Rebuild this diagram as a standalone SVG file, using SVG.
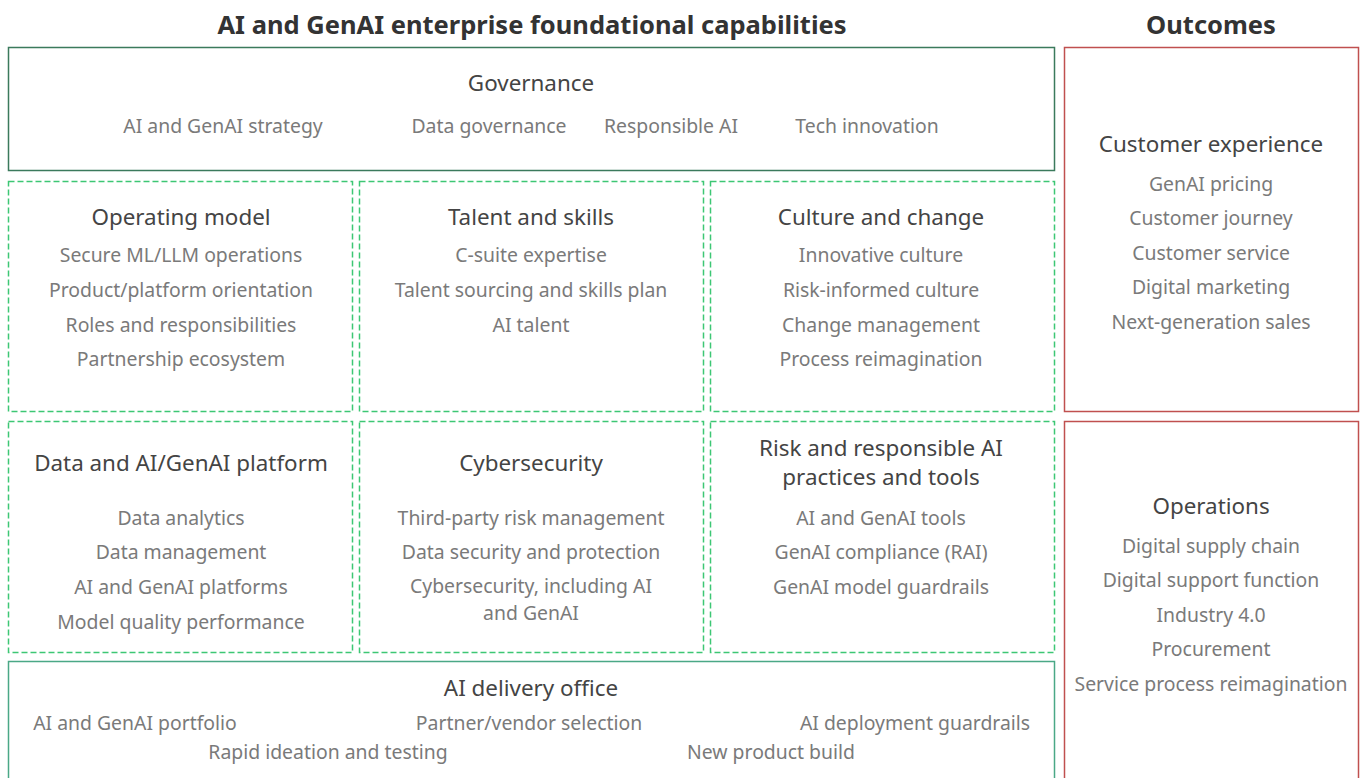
<svg xmlns="http://www.w3.org/2000/svg" width="1365" height="778" viewBox="0 0 1365 778">
<style>
.t{font-family:"Noto Sans","Open Sans",sans-serif;font-size:25.5px;font-weight:bold;fill:#333;text-anchor:middle}
.h{font-family:"Noto Sans","Open Sans",sans-serif;font-size:22.4px;fill:#444;text-anchor:middle}
.i{font-family:"Noto Sans","Open Sans",sans-serif;font-size:19.4px;fill:#7a7a7a;text-anchor:middle}
.gov{fill:none;stroke:#3b7a5c;stroke-width:1.5}
.dash{fill:none;stroke:#3dc774;stroke-width:1.5;stroke-dasharray:6 3}
.del{fill:none;stroke:#4aa886;stroke-width:1.5}
.out{fill:none;stroke:#c0504f;stroke-width:1.5}
</style>
<rect width="1365" height="778" fill="#fff"/>
<text class="t" x="532" y="34">AI and GenAI enterprise foundational capabilities</text>
<text class="t" x="1211" y="34">Outcomes</text>
<g id="governance">
<rect class="gov" x="8.5" y="47.5" width="1046" height="123"/>
<text class="h" x="531" y="91">Governance</text>
<text class="i" x="223" y="133">AI and GenAI strategy</text>
<text class="i" x="489" y="133">Data governance</text>
<text class="i" x="671" y="133">Responsible AI</text>
<text class="i" x="867" y="133">Tech innovation</text>
</g>
<g id="operating-model">
<rect class="dash" x="8.5" y="181.5" width="344" height="230"/>
<text class="h" x="181" y="225">Operating model</text>
<text class="i" x="181" y="262">Secure ML/LLM operations</text>
<text class="i" x="181" y="297">Product/platform orientation</text>
<text class="i" x="181" y="332">Roles and responsibilities</text>
<text class="i" x="181" y="366">Partnership ecosystem</text>
</g>
<g id="talent">
<rect class="dash" x="359.5" y="181.5" width="344" height="230"/>
<text class="h" x="531" y="225">Talent and skills</text>
<text class="i" x="531" y="262">C-suite expertise</text>
<text class="i" x="531" y="297">Talent sourcing and skills plan</text>
<text class="i" x="531" y="332">AI talent</text>
</g>
<g id="culture">
<rect class="dash" x="710.5" y="181.5" width="344" height="230"/>
<text class="h" x="881" y="225">Culture and change</text>
<text class="i" x="881" y="262">Innovative culture</text>
<text class="i" x="881" y="297">Risk-informed culture</text>
<text class="i" x="881" y="332">Change management</text>
<text class="i" x="881" y="366">Process reimagination</text>
</g>
<g id="data-platform">
<rect class="dash" x="8.5" y="421.5" width="344" height="231"/>
<text class="h" x="181" y="471">Data and AI/GenAI platform</text>
<text class="i" x="181" y="525">Data analytics</text>
<text class="i" x="181" y="559">Data management</text>
<text class="i" x="181" y="594">AI and GenAI platforms</text>
<text class="i" x="181" y="629">Model quality performance</text>
</g>
<g id="cybersecurity">
<rect class="dash" x="359.5" y="421.5" width="344" height="231"/>
<text class="h" x="531" y="471">Cybersecurity</text>
<text class="i" x="531" y="525">Third-party risk management</text>
<text class="i" x="531" y="559">Data security and protection</text>
<text class="i" x="531" y="593">Cybersecurity, including AI</text>
<text class="i" x="531" y="620">and GenAI</text>
</g>
<g id="risk">
<rect class="dash" x="710.5" y="421.5" width="344" height="231"/>
<text class="h" x="881" y="456">Risk and responsible AI</text>
<text class="h" x="881" y="485">practices and tools</text>
<text class="i" x="881" y="525">AI and GenAI tools</text>
<text class="i" x="881" y="559">GenAI compliance (RAI)</text>
<text class="i" x="881" y="594">GenAI model guardrails</text>
</g>
<g id="delivery-office">
<rect class="del" x="8.5" y="661.5" width="1046" height="130"/>
<text class="h" x="531" y="696">AI delivery office</text>
<text class="i" x="135" y="730">AI and GenAI portfolio</text>
<text class="i" x="529" y="730">Partner/vendor selection</text>
<text class="i" x="915" y="730">AI deployment guardrails</text>
<text class="i" x="328" y="759">Rapid ideation and testing</text>
<text class="i" x="771" y="759">New product build</text>
</g>
<g id="customer-experience">
<rect class="out" x="1064.5" y="47.5" width="294" height="364"/>
<text class="h" x="1211" y="152">Customer experience</text>
<text class="i" x="1211" y="191">GenAI pricing</text>
<text class="i" x="1211" y="225">Customer journey</text>
<text class="i" x="1211" y="260">Customer service</text>
<text class="i" x="1211" y="294">Digital marketing</text>
<text class="i" x="1211" y="329">Next-generation sales</text>
</g>
<g id="operations">
<rect class="out" x="1064.5" y="421.5" width="294" height="370"/>
<text class="h" x="1211" y="514">Operations</text>
<text class="i" x="1211" y="553">Digital supply chain</text>
<text class="i" x="1211" y="587">Digital support function</text>
<text class="i" x="1211" y="622">Industry 4.0</text>
<text class="i" x="1211" y="656">Procurement</text>
<text class="i" x="1211" y="691">Service process reimagination</text>
</g>
<g id="connectors"></g>
</svg>
